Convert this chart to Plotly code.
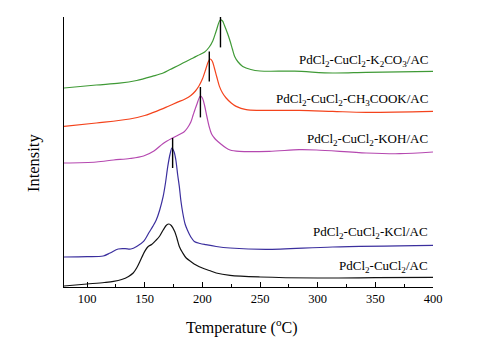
import plotly.graph_objects as go

# Temperature (°C) and intensity (arbitrary, stacked offsets)
t_base = [80, 100, 115, 123, 130, 136, 140, 143, 146, 150, 153, 156, 160, 163, 166, 169, 171, 173, 176, 178, 180, 183, 186, 190, 194.5, 200, 206, 212, 224, 250, 300, 350, 400]
i_base = [1, 3, 4.5, 5.6, 7.5, 10.6, 14, 19, 26, 35.6, 40.5, 42.5, 47, 51, 57, 62, 63, 61.5, 55.6, 48.5, 40.6, 34, 29, 25.5, 22, 19, 16.5, 14, 11.6, 10, 9, 9.3, 9.7]

t_kcl = [80, 100, 114, 120, 127, 133, 138, 143, 149, 154, 157, 160, 163, 166, 168, 170, 172, 173.6, 175.5, 177, 178.6, 180, 181.4, 183, 185, 187, 190, 193, 198, 203, 212, 224, 255, 313, 400]
i_kcl = [30, 30.3, 31, 34, 38, 38.3, 38, 40.5, 45.6, 55, 60.6, 67, 77, 90.6, 104, 120.6, 133, 139, 135, 127, 112, 100.6, 86, 74, 63, 57, 50, 45.6, 43.5, 42.3, 40.5, 39, 37.6, 40, 41.6]

t_koh = [80, 108, 123, 137, 149, 158, 166, 175, 180, 184, 187, 190, 192, 195, 198.3, 200, 202, 204, 206, 208, 210.4, 212, 216, 220, 224, 232, 258, 284, 299, 342, 371, 400]
i_koh = [124, 125, 127, 128.5, 131, 136, 143.5, 149.5, 152.5, 155, 159, 165, 172, 182, 191, 189, 181, 170, 160, 153, 149, 147, 143, 139.5, 137, 135.6, 135.6, 137.3, 137, 134, 133.3, 135]

t_ac = [80, 108, 137, 150, 160, 170, 178, 185, 190, 194, 197, 200, 203, 205, 206.7, 208.5, 210.4, 212.5, 214.8, 217.5, 220.6, 225, 229.3, 238, 250, 284, 313, 342, 400]
i_ac = [160.6, 164, 168, 171.5, 175.6, 180.5, 184.6, 188, 191.5, 196, 201, 208, 218, 225, 228, 226, 219, 210, 200.6, 194, 189, 184, 180.6, 177.3, 176.6, 176.6, 175.6, 174.6, 175.6]

t_co3 = [80, 108, 128, 143, 157, 166, 172, 180, 184, 192, 196, 202, 206, 209, 212, 215.5, 217.5, 219, 222, 224, 226, 228, 231, 235, 242, 250, 280, 313, 342, 400]
i_co3 = [199, 202, 203.8, 206.5, 210.8, 214, 217.5, 222, 224.5, 229, 231.5, 235, 240, 246, 256, 267, 266, 262, 253, 246, 238, 230.6, 225, 220.6, 217.5, 216, 215.8, 214, 214.6, 215.6]

# peak marker positions (temperature, lower, upper)
peak_t = [174.2, 198.3, 206, 215.7]
peak_lo = [119, 169.6, 205.6, 239.6]
peak_hi = [149, 200, 235.6, 270]

labels = ["PdCl<sub>2</sub>-CuCl<sub>2</sub>/AC",
          "PdCl<sub>2</sub>-CuCl<sub>2</sub>-KCl/AC",
          "PdCl<sub>2</sub>-CuCl<sub>2</sub>-KOH/AC",
          "PdCl<sub>2</sub>-CuCl<sub>2</sub>-CH<sub>3</sub>COOK/AC",
          "PdCl<sub>2</sub>-CuCl<sub>2</sub>-K<sub>2</sub>CO<sub>3</sub>/AC"]
label_y = [21, 55, 148, 188, 227]

xticks = [100, 150, 200, 250, 300, 350, 400]

series = [
    (t_base, i_base, "#111111"),
    (t_kcl, i_kcl, "#3b2f9e"),
    (t_koh, i_koh, "#b548b0"),
    (t_ac, i_ac, "#f4431c"),
    (t_co3, i_co3, "#3f9a36"),
]

font_family = "Liberation Serif"
fig = go.Figure()
for t, i, c in series:
    fig.add_trace(go.Scatter(x=t, y=i, mode="lines", line=dict(color=c, width=1.2, shape="spline", smoothing=0.9),
                             showlegend=False, hoverinfo="skip"))

for pt, lo, hi in zip(peak_t, peak_lo, peak_hi):
    fig.add_trace(go.Scatter(x=[pt, pt], y=[lo, hi], mode="lines", line=dict(color="black", width=1.4),
                             showlegend=False, hoverinfo="skip"))

for lab, ly in zip(labels, label_y):
    fig.add_annotation(x=397.5, y=ly, text=lab, showarrow=False, xanchor="right", yanchor="middle",
                       font=dict(family=font_family, size=13, color="black"))

fig.add_annotation(x=0.483, y=-0.148, xref="paper", yref="paper", text="Temperature (<sup>o</sup>C)",
                   showarrow=False, xanchor="center", yanchor="middle",
                   font=dict(family=font_family, size=16, color="black"))
fig.add_annotation(x=-0.084, y=0.459, xref="paper", yref="paper", text="Intensity", textangle=-90,
                   showarrow=False, xanchor="center", yanchor="middle",
                   font=dict(family=font_family, size=16.5, color="black"))

fig.update_layout(
    width=491, height=337,
    margin=dict(l=56, r=66, t=9, b=58),
    paper_bgcolor="white", plot_bgcolor="white",
    font=dict(family=font_family, color="black"),
    xaxis=dict(range=[80, 400], showline=True, linecolor="black", linewidth=1, mirror=False,
               tickvals=xticks, ticks="inside", ticklen=5, tickcolor="black", automargin=False,
               tickfont=dict(size=12.5, family=font_family),
               minor=dict(tickvals=[125, 175, 225, 275, 325, 375], ticks="inside", ticklen=3, tickcolor="black"),
               showgrid=False, zeroline=False),
    yaxis=dict(range=[0, 270], showline=True, linecolor="black", linewidth=1, showticklabels=False,
               ticks="", showgrid=False, zeroline=False, automargin=False),
)

fig.write_html("out.html")
